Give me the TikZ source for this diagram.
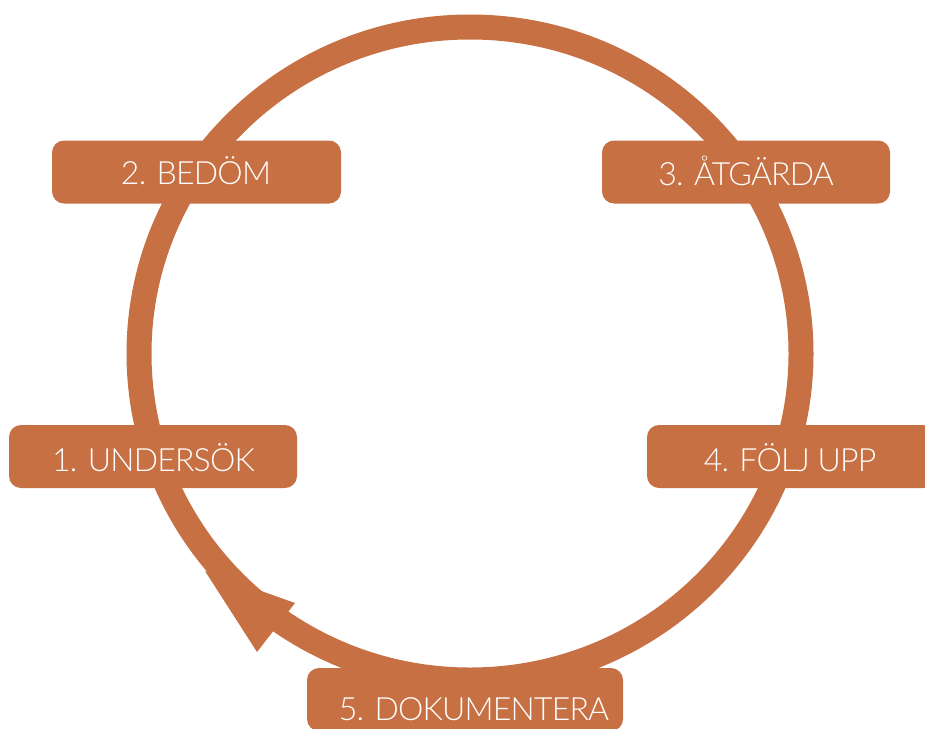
\documentclass[tikz,border=0pt]{standalone}
\usepackage{fontspec}
\newfontfamily\lblfont[LetterSpace=-2.5]{Lato Light}
\definecolor{rust}{RGB}{199,112,67}
\begin{document}
\begin{tikzpicture}[x=1pt,y=-1pt,
  stepbox/.style={fill=rust, rounded corners=12pt, minimum height=63pt, inner sep=0pt},
  steptext/.style={text=white, font=\lblfont\fontsize{32}{32}\selectfont, anchor=base, inner sep=0pt}]
\useasboundingbox (0,0) rectangle (925,728);
% ring
\draw[rust, line width=25pt] (470,353.5) ellipse [x radius=331pt, y radius=326.5pt];
% arrowhead
\fill[rust] (205,571) -- (295,603) -- (257,652) -- cycle;
% boxes
\node[stepbox, minimum width=288pt] (b1) at (153,456.5) {};
\node[stepbox, minimum width=289pt] (b2) at (196.5,172) {};
\node[stepbox, minimum width=288pt] (b3) at (746,172) {};
\node[stepbox, minimum width=288pt] (b4) at (791,456.5) {};
\node[stepbox, minimum width=316pt] (b5) at (465,699.5) {};
% labels
\node[steptext] (t1) at (153.5,471) {1. UNDERSÖK};
\node[steptext] (t2) at (196,184) {2. BEDÖM};
\node[steptext] (t3) at (746,185) {3. ÅTGÄRDA};
\node[steptext] (t4) at (790,471) {4. FÖLJ UPP};
\node[steptext] (t5) at (474,720) {5. DOKUMENTERA};
\end{tikzpicture}
\end{document}
